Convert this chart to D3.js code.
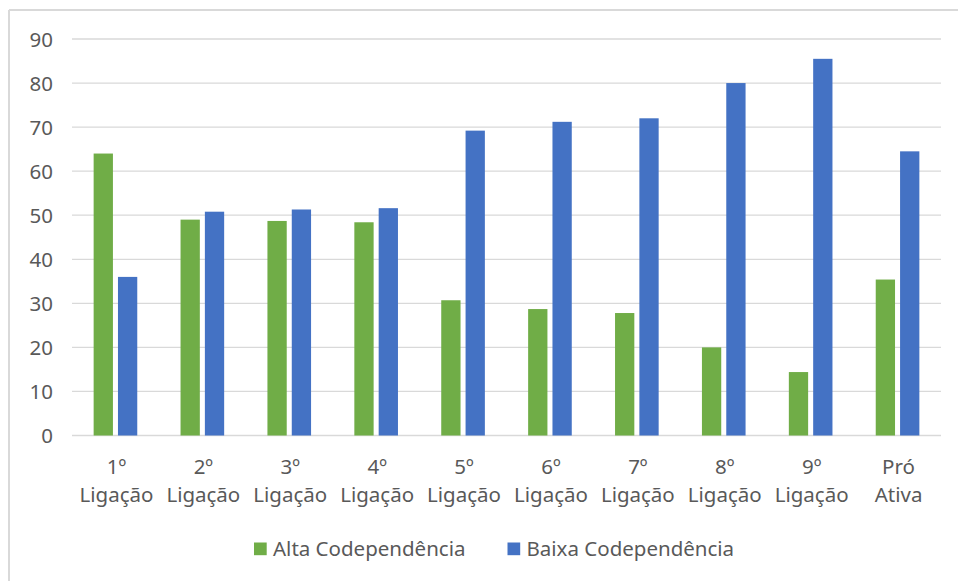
<!DOCTYPE html>
<html>
<head>
<meta charset="utf-8">
<script src="https://cdn.jsdelivr.net/npm/d3@7"></script>
<style>
html,body{margin:0;padding:0;background:#fff;}
svg{display:block;font-family:"Noto Sans","Open Sans",sans-serif;}
</style>
</head>
<body>
<svg id="chart" width="958" height="581"></svg>
<script>
const categories = [["1º","Ligação"],["2º","Ligação"],["3º","Ligação"],["4º","Ligação"],["5º","Ligação"],["6º","Ligação"],["7º","Ligação"],["8º","Ligação"],["9º","Ligação"],["Pró","Ativa"]];
const seriesNames = ["Alta Codependência","Baixa Codependência"];
const alta  = [64, 49, 48.7, 48.4, 30.7, 28.7, 27.8, 20, 14.4, 35.4];
const baixa = [36, 50.8, 51.3, 51.6, 69.2, 71.2, 72, 80, 85.5, 64.5];
const yTicks = [0,10,20,30,40,50,60,70,80,90];
const colors = ["#70AD47","#4472C4"];

(function(){
const svg = d3.select("#chart");
const pLeft = 72, pRight = 941, pTop = 39, pBottom = 435.5;
const fs = "20.5px";

// frame
svg.append("line").attr("x1",9).attr("x2",958).attr("y1",10).attr("y2",10).attr("stroke","#d9d9d9").attr("stroke-width",2);
svg.append("line").attr("x1",9).attr("x2",9).attr("y1",10).attr("y2",581).attr("stroke","#d9d9d9").attr("stroke-width",2);

const keys = categories.map((c,i)=>i);
const x = d3.scaleBand().domain(keys).range([pLeft,pRight]).paddingInner(0).paddingOuter(0);
const y = d3.scaleLinear().domain([0,90]).range([pBottom,pTop]);

// gridlines
svg.append("g").selectAll("line").data(yTicks).join("line")
  .attr("x1",pLeft).attr("x2",pRight)
  .attr("y1",d=>y(d)).attr("y2",d=>y(d))
  .attr("stroke","#d9d9d9").attr("stroke-width",1.3);

// y axis labels
const yAxis = d3.axisLeft(y).tickValues(yTicks).tickSize(0).tickPadding(0);
const gy = svg.append("g").attr("transform",`translate(53,0)`).call(yAxis);
gy.select(".domain").remove();
gy.selectAll("text").attr("fill","#595959").style("font-size",fs).attr("dy","0.35em")
  .style("font-family","'Noto Sans','Open Sans',sans-serif");

// bars
const step = x.bandwidth();
const bw = step*0.222, gap = step*0.058;
const inner = d3.scaleBand().domain([0,1]).range([step/2 - bw - gap/2, step/2 + bw + gap/2]).paddingInner(gap/(bw+gap)).paddingOuter(0);
const data = [alta, baixa];
data.forEach((arr,s)=>{
  svg.append("g").selectAll("rect").data(arr).join("rect")
    .attr("x",(d,i)=>x(i)+inner(s))
    .attr("width",inner.bandwidth())
    .attr("y",d=>y(d))
    .attr("height",d=>y(0)-y(d))
    .attr("fill",colors[s]);
});

// x labels
const xl = svg.append("g");
categories.forEach((c,i)=>{
  const cx = x(i)+step/2+1;
  const t = xl.append("text").attr("x",cx).attr("text-anchor","middle")
    .attr("fill","#595959").style("font-size",fs);
  t.append("tspan").attr("x",cx).attr("y",474).text(c[0]);
  t.append("tspan").attr("x",cx).attr("y",502).text(c[1]);
});

// legend
const legX = [254, 507.5];
seriesNames.forEach((n,i)=>{
  svg.append("rect").attr("x",legX[i]).attr("y",542.5).attr("width",12.7).attr("height",12.7).attr("fill",colors[i]);
  svg.append("text").attr("x",legX[i]+19).attr("y",555.5).attr("fill","#595959").style("font-size",fs).text(n);
});
})();
</script>
</body>
</html>
